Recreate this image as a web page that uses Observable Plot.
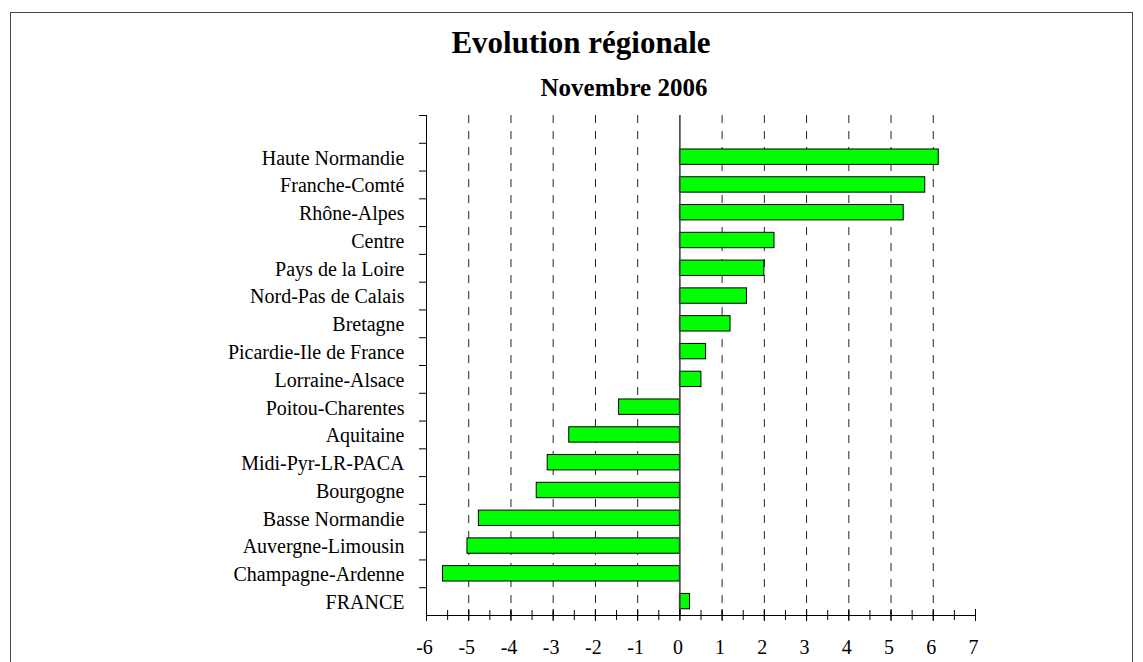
<!DOCTYPE html>
<html>
<head>
<meta charset="utf-8">
<script src="https://cdn.jsdelivr.net/npm/d3@7"></script>
<script src="https://cdn.jsdelivr.net/npm/@observablehq/plot@0.6"></script>
<style>
  html, body { margin: 0; padding: 0; background: #fff; }
  #wrap { position: relative; width: 1143px; height: 662px; overflow: hidden; background: #fff; }
  #frame { position: absolute; left: 10px; top: 12px; width: 1123px; height: 720px; border: 1.5px solid #444; box-sizing: border-box; pointer-events: none; z-index: 3; }
  .ttl { position: absolute; left: 0; text-align: center; font-family: "Liberation Serif", "Times New Roman", serif; font-weight: bold; color: #000; white-space: nowrap; z-index: 2; }
  #title { top: 27px; width: 1162px; font-size: 31px; line-height: 31px; }
  #subtitle { top: 75px; width: 1248px; font-size: 25px; line-height: 25px; }
  #chart { position: absolute; left: 0; top: 0; z-index: 1; }
</style>
</head>
<body>
<div id="wrap">
  <div id="frame"></div>
  <div id="title" class="ttl">Evolution régionale</div>
  <div id="subtitle" class="ttl">Novembre 2006</div>
  <div id="chart"></div>
</div>
<script>
const regions = [
  "Haute Normandie", "Franche-Comté", "Rhône-Alpes", "Centre", "Pays de la Loire",
  "Nord-Pas de Calais", "Bretagne", "Picardie-Ile de France", "Lorraine-Alsace",
  "Poitou-Charentes", "Aquitaine", "Midi-Pyr-LR-PACA", "Bourgogne", "Basse Normandie",
  "Auvergne-Limousin", "Champagne-Ardenne", "FRANCE"
];
const values = [6.13, 5.81, 5.30, 2.24, 2.00, 1.59, 1.20, 0.62, 0.51, -1.44, -2.62, -3.13, -3.39, -4.76, -5.03, -5.61, 0.24];
const xTicks = [-6, -5, -4, -3, -2, -1, 0, 1, 2, 3, 4, 5, 6, 7];
const gridTicks = [-5, -4, -3, -2, -1, 1, 2, 3, 4, 5, 6];
const minorTicks = d3.range(-6, 7.01, 0.5);

// slot 0 is an empty row at the top; each region occupies slot i+1
const rows = regions.map((r, i) => ({region: r, value: values[i], slot: i + 1}));
const nSlots = regions.length + 1;
const slotEdges = d3.range(0, nSlots);

const font = "Liberation Serif, Times New Roman, serif";

const chart = Plot.plot({
  width: 1143,
  height: 662,
  marginLeft: 426,
  marginRight: 168,
  marginTop: 115,
  marginBottom: 47,
  style: {background: "transparent", fontFamily: font, color: "#000"},
  x: {domain: [xTicks[0], xTicks[xTicks.length - 1]], axis: null},
  y: {domain: [0, nSlots], reverse: true, axis: null},
  marks: [
    // dashed vertical gridlines
    Plot.ruleX(gridTicks, {x: d => d, stroke: "#222", strokeWidth: 1, strokeDasharray: "8,8"}),
    // bars
    Plot.rect(rows, {
      x1: 0, x2: "value",
      y1: "slot", y2: d => d.slot + 1,
      insetTop: 6.2, insetBottom: 6.2,
      fill: "#00ff00", stroke: "#000", strokeWidth: 1
    }),
    // zero line
    Plot.ruleX([0], {stroke: "#444", strokeWidth: 1.6}),
    // y axis line + outward ticks at slot edges
    Plot.ruleX([xTicks[0]], {stroke: "#000", strokeWidth: 1}),
    Plot.ruleY(slotEdges, {y: d => d, x1: xTicks[0], x2: xTicks[0], insetLeft: -7, insetRight: 0, stroke: "#000", strokeWidth: 1}),
    // x axis line + crossing ticks
    Plot.ruleY([nSlots], {stroke: "#000", strokeWidth: 1}),
    Plot.ruleX(minorTicks, {x: d => d, y1: nSlots, y2: nSlots, insetTop: 5, insetBottom: 5, stroke: "#000", strokeWidth: 1}),
    Plot.ruleX(xTicks, {x: d => d, y1: nSlots, y2: nSlots, insetTop: 6, insetBottom: 6, stroke: "#000", strokeWidth: 1}),
    // x tick labels
    Plot.text(xTicks, {x: d => d, y: nSlots, text: d => String(d), dy: 32, dx: -2, lineAnchor: "middle", fontSize: 20, fontFamily: font, fill: "#000"}),
    // region labels
    Plot.text(rows, {y: d => d.slot + 0.5, frameAnchor: "left", text: "region", textAnchor: "end", dx: -22, dy: 1, lineAnchor: "middle", fontSize: 20, fontFamily: font, fill: "#000"})
  ]
});
document.getElementById("chart").appendChild(chart);
</script>
</body>
</html>
